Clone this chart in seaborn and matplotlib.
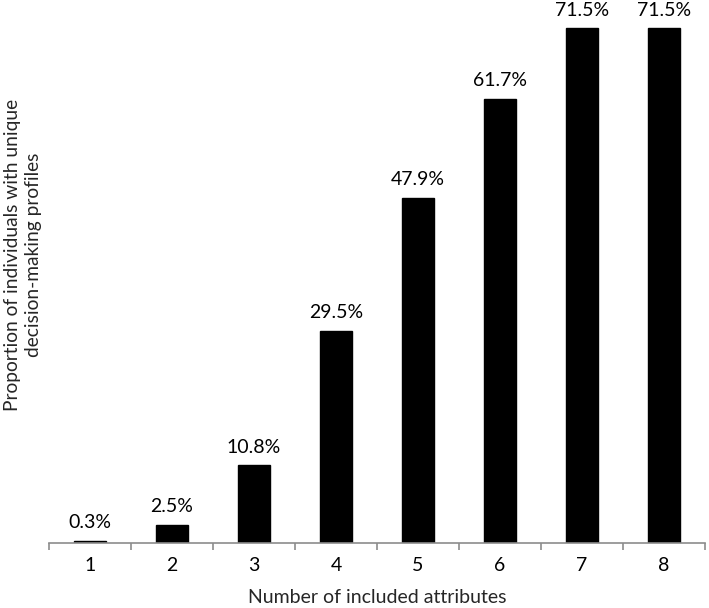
import matplotlib
matplotlib.use("Agg")
import matplotlib.pyplot as plt
import seaborn as sns
import numpy as np
import pandas as pd

categories = ["1", "2", "3", "4", "5", "6", "7", "8"]
values = [0.3, 2.5, 10.8, 29.5, 47.9, 61.7, 71.5, 71.5]
labels = ["0.3%", "2.5%", "10.8%", "29.5%", "47.9%", "61.7%", "71.5%", "71.5%"]

sns.set_theme(style="white")
plt.rcParams['font.family'] = ['Lato', 'DejaVu Sans']

df = pd.DataFrame({"attr": categories, "pct": values})

fig = plt.figure(figsize=(7.09, 6.08), dpi=100)
ax = fig.add_axes([0.0691, 0.1069, 0.9253, 0.888])
sns.barplot(data=df, x="attr", y="pct", color="black", saturation=1, width=0.4,
            edgecolor="black", linewidth=1, ax=ax)
ax.bar_label(ax.containers[0], labels=labels, padding=7, fontsize=14, color="black")

ax.set_ylim(0, 75)
ax.set_xlim(-0.5, 7.5)
ax.set_yticks([])
for s in ["top", "right", "left"]:
    ax.spines[s].set_visible(False)
ax.spines["bottom"].set_color("#8c8c8c")
ax.spines["bottom"].set_linewidth(1.2)
ax.set_xticks(np.arange(-0.5, 8, 1), minor=True)
ax.tick_params(axis="x", which="major", length=0, labelsize=14, pad=10, colors="black")
ax.tick_params(axis="x", which="minor", length=5, width=1.2, color="#8c8c8c", bottom=True, direction="out")
ax.set_xlabel("Number of included attributes", fontsize=14, labelpad=11)
ax.set_ylabel("Proportion of individuals with unique\ndecision-making profiles", fontsize=13.8,
              linespacing=1.3)
ax.yaxis.set_label_coords(-0.011, 0.533)

fig.savefig("out.png", dpi=100)
